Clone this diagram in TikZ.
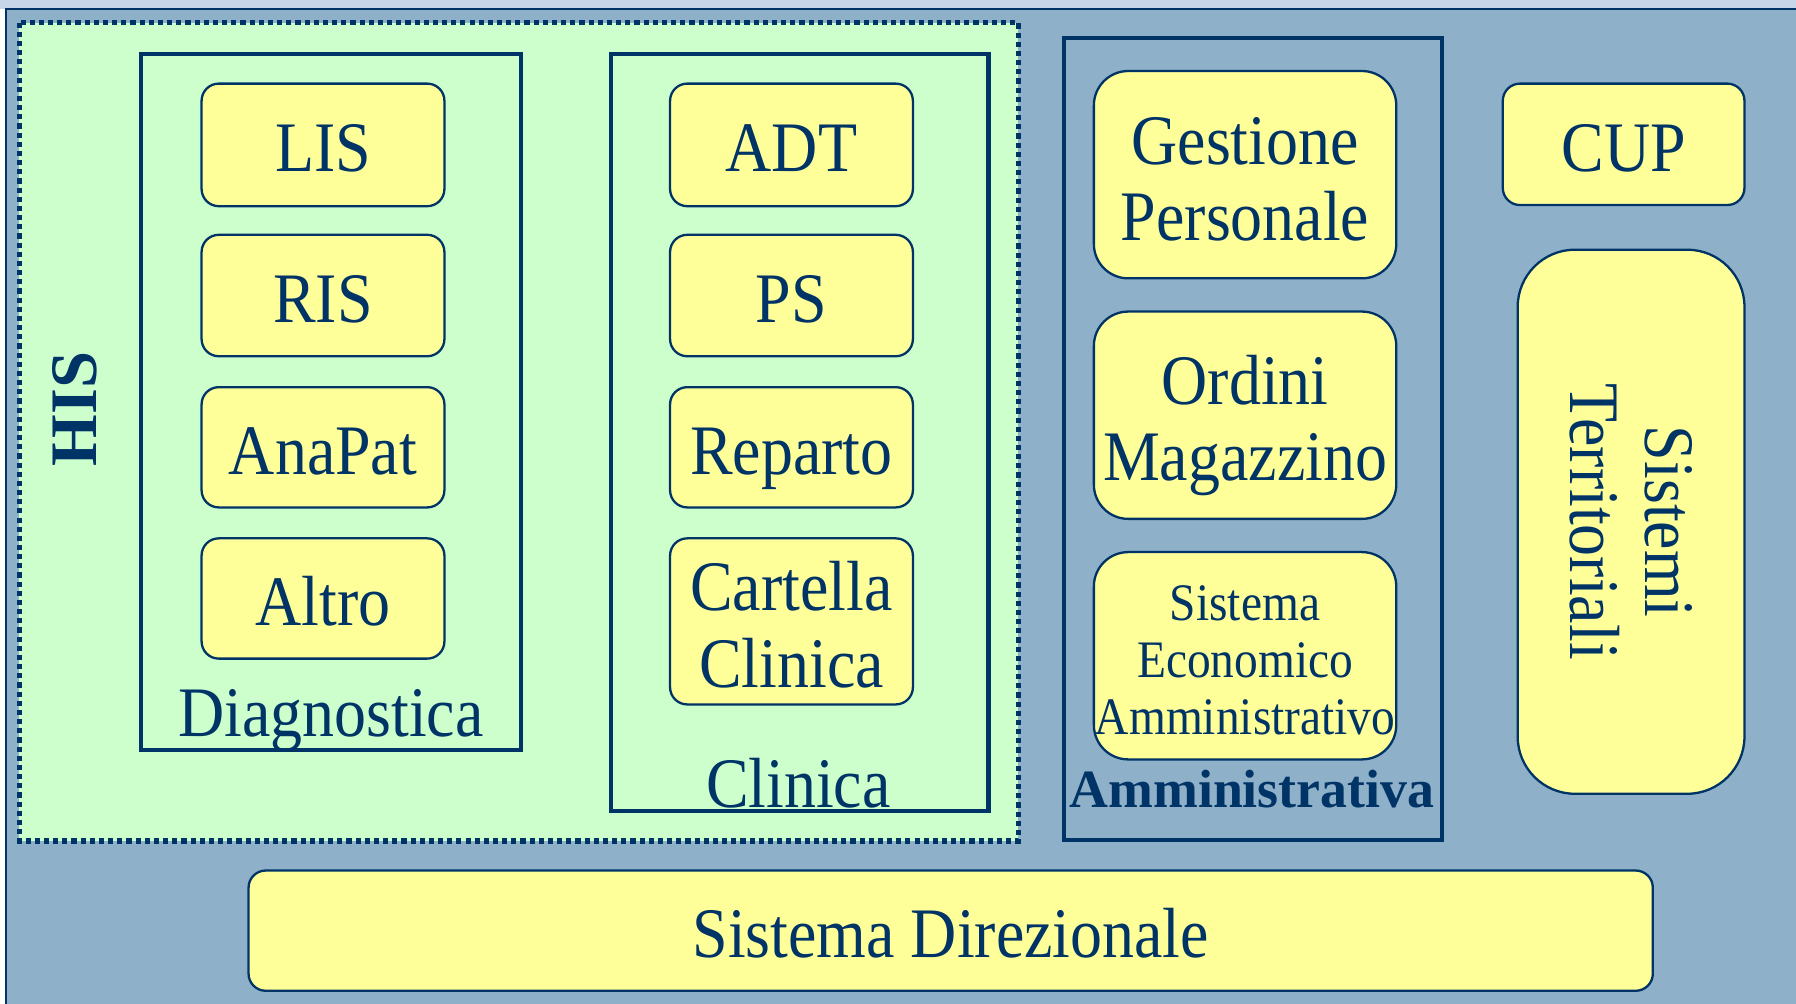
\documentclass[tikz,border=0pt]{standalone}
\usepackage{fontspec}
\setmainfont{Liberation Serif}[FakeStretch=0.9]
\newfontfamily\plainserif{Liberation Serif}
\definecolor{navy}{HTML}{003366}
\definecolor{bgblue}{HTML}{8EB0C8}
\definecolor{topstrip}{HTML}{C8D6EA}
\definecolor{hisgreen}{HTML}{CCFFCC}
\definecolor{boxyellow}{HTML}{FFFF99}
\tikzset{
  ybox/.style={draw=navy, line width=2pt, fill=boxyellow, rounded corners=15pt,
    inner sep=0pt, text=navy, align=center, font=\fontsize{62}{66}\selectfont},
  sl/.style={text height=59pt, text depth=12pt},
  bigbox/.style={ybox, rounded corners=30pt},
  mtext/.style={text=navy, inner sep=0pt, align=center, font=\fontsize{62}{67}\selectfont},
  smalltxt/.style={font=\fontsize{46}{50}\selectfont},
  groupbox/.style={draw=navy, line width=3.5pt, inner sep=0pt},
  grouplabel/.style={text=navy, inner sep=0pt, anchor=base, font=\fontsize{62}{66}\selectfont},
}
\begin{document}
\begin{tikzpicture}[x=1pt,y=-1pt]
\useasboundingbox (0,0) rectangle (1568,876);
\begin{scope}
\clip (0,0) rectangle (1568,876);
\fill[topstrip] (0,0) rectangle (1568,8);
\draw[navy, line width=2pt, fill=bgblue] (5,8) rectangle (1580,890);
\end{scope}

% HIS area
\node[fill=hisgreen, minimum width=872, minimum height=714, inner sep=0pt] (his) at (453,377) {};
\draw[navy, line width=4.5pt, dash pattern=on 4.5pt off 3.5pt]
  (his.north west) rectangle (his.south east);
\node[text=navy, rotate=90, inner sep=0pt, font=\plainserif\fontsize{58}{62}\selectfont\bfseries] (hislbl) at (65,357) {HIS};

% Diagnostica
\node[groupbox, minimum width=332, minimum height=608] (diag) at (289,351) {};
\node[grouplabel] (diaglbl) at (289,643) {Diagnostica};
\node[ybox, sl, minimum width=212, minimum height=107] (lis) at (282,126.5) {LIS};
\node[ybox, sl, minimum width=212, minimum height=106] (ris) at (282,258) {RIS};
\node[ybox, sl, minimum width=212, minimum height=105] (anapat) at (282,390.5) {AnaPat};
\node[ybox, sl, minimum width=212, minimum height=105] (altro) at (282,522.5) {Altro};

% Clinica
\node[groupbox, minimum width=330, minimum height=661] (clin) at (698,377.5) {};
\node[grouplabel] (clinlbl) at (697,705) {Clinica};
\node[ybox, sl, minimum width=212, minimum height=107] (adt) at (691,126.5) {ADT};
\node[ybox, sl, minimum width=212, minimum height=106] (ps) at (691,258) {PS};
\node[ybox, sl, minimum width=212, minimum height=105] (rep) at (691,390.5) {Reparto};
\node[ybox, minimum width=212, minimum height=145,
  label={[mtext, yshift=-3pt]center:{Cartella\\Clinica}}] (cart) at (691,542.5) {};

% Amministrativa
\node[groupbox, minimum width=330, minimum height=700] (amm) at (1094,383) {};
\node[grouplabel, font=\plainserif\fontsize{47}{50}\selectfont\bfseries] (ammlbl) at (1093,705) {Amministrativa};
\node[bigbox, minimum width=264, minimum height=181,
  label={[mtext, yshift=-4pt]center:{Gestione\\Personale}}] (gest) at (1087,152.5) {};
\node[bigbox, minimum width=264, minimum height=181,
  label={[mtext, yshift=-9pt]center:{Ordini\\Magazzino}}] (ord) at (1087,362.5) {};
\node[bigbox, minimum width=264, minimum height=181,
  label={[mtext, smalltxt, yshift=-4pt]center:{Sistema\\Economico\\Amministrativo}}] (sea) at (1087,572.5) {};

% Right column
\node[ybox, sl, minimum width=211, minimum height=106] (cup) at (1417.5,126) {CUP};
\node[ybox, rounded corners=50pt, rotate=-90, minimum width=475, minimum height=198] (terr) at (1424,455.5) {Sistemi\\Territoriali};

% Bottom
\node[ybox, sl, minimum width=1226, minimum height=105] (dir) at (830,812.5) {Sistema Direzionale};
\end{tikzpicture}
\end{document}
